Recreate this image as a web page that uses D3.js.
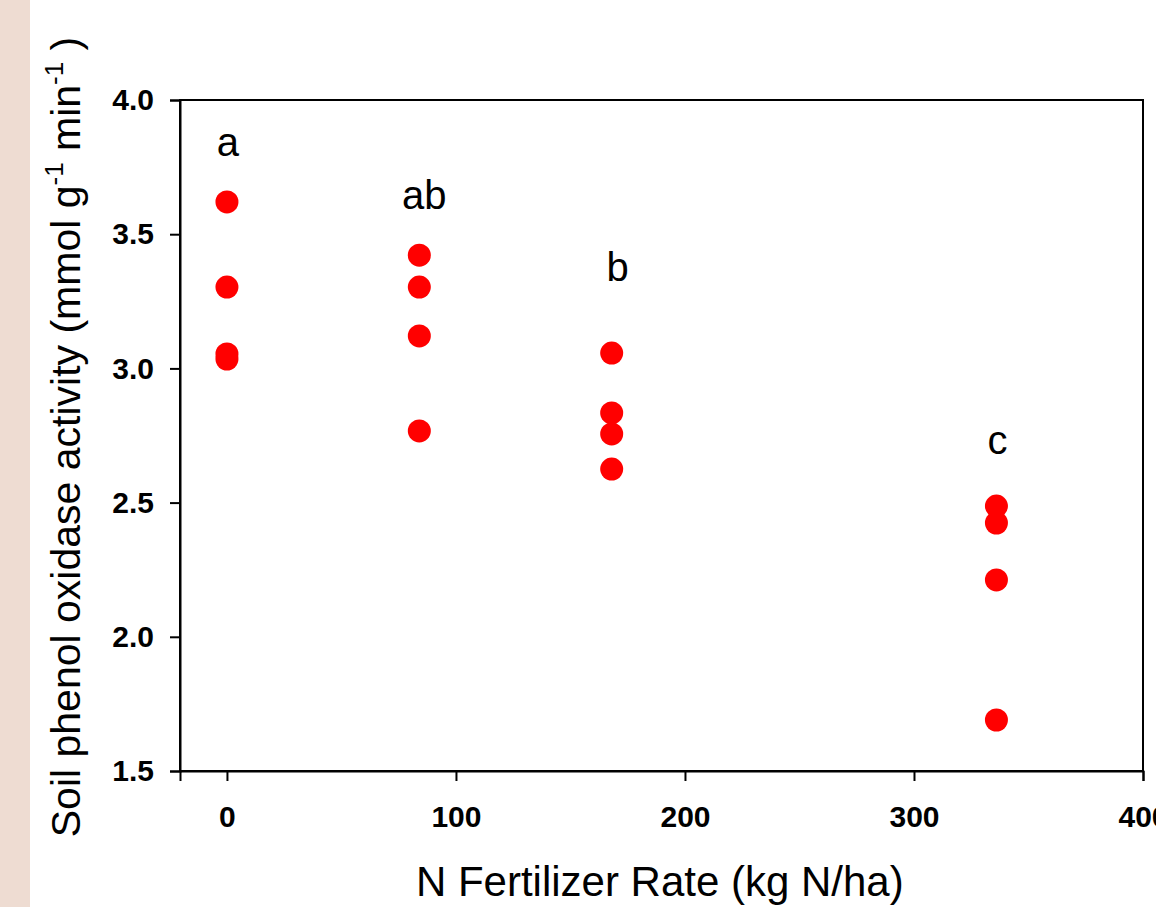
<!DOCTYPE html>
<head>
<meta charset="utf-8">
<script src="https://d3js.org/d3.v7.min.js"></script>
</head>
<style>
body { margin: 0; background: #fff; }
text { font-family: Arial, "Liberation Sans", sans-serif; }
.tick text { font-weight: bold; font-size: 30px; }
</style>
<body>
<script>
// fertilizer rate groups and replicate activity values
var rates = [0, 84, 168, 336];
var reps0 = [3.62, 3.303, 3.054, 3.035];
var reps84 = [3.422, 3.303, 3.121, 2.767];
var reps168 = [3.057, 2.834, 2.756, 2.625];
var reps336 = [2.487, 2.424, 2.212, 1.69];
var letters = ["a", "ab", "b", "c"];
var letterY = [3.79, 3.595, 3.326, 2.68];
var xTicks = [0, 100, 200, 300, 400];
var yTicks = [1.5, 2.0, 2.5, 3.0, 3.5, 4.0];

var W = 1156, H = 907;
var margin = {top: 100, right: 13, bottom: 136, left: 180},
    width = W - margin.left - margin.right,
    height = H - margin.top - margin.bottom;

var svg = d3.select("body").append("svg")
    .attr("width", W)
    .attr("height", H);

// beige strip on the left
svg.append("rect").attr("x", 0).attr("y", 0).attr("width", 30).attr("height", H)
    .attr("fill", "#eedcd2");

var g = svg.append("g")
    .attr("transform", "translate(" + margin.left + "," + margin.top + ")");

var x = d3.scaleLinear().domain([-20.5, 400]).range([0, width]);
var y = d3.scaleLinear().domain([1.5, 4.0]).range([height, 0]);

// frame
g.append("rect").attr("width", width).attr("height", height)
    .attr("fill", "none").attr("stroke", "#000").attr("stroke-width", 2);

g.append("g")
    .attr("transform", "translate(0," + height + ")")
    .call(d3.axisBottom(x).tickValues(xTicks).tickSize(10).tickPadding(25).tickFormat(d3.format("d")))
    .call(function(s) { s.select(".domain").attr("stroke-width", 2); s.selectAll(".tick line").attr("stroke-width", 2); });

g.append("g")
    .call(d3.axisLeft(y).tickValues(yTicks).tickSize(10).tickPadding(16).tickFormat(d3.format(".1f")))
    .call(function(s) { s.select(".domain").attr("stroke-width", 2); s.selectAll(".tick line").attr("stroke-width", 2); });

g.selectAll(".tick text").attr("font-family", "Arial, 'Liberation Sans', sans-serif").attr("fill", "#000");

var groups = [reps0, reps84, reps168, reps336];
var points = [];
groups.forEach(function(vals, i) {
  vals.forEach(function(v) { points.push({rate: rates[i], val: v}); });
});

g.selectAll(".dot").data(points).enter().append("circle")
    .attr("class", "dot")
    .attr("cx", function(d) { return x(d.rate); })
    .attr("cy", function(d) { return y(d.val); })
    .attr("r", 11.5)
    .attr("fill", "#ff0000");

g.selectAll(".letter").data(letters).enter().append("text")
    .attr("class", "letter")
    .attr("x", function(d, i) { return x(rates[i]) + (i == 1 ? 5 : i == 2 ? 6 : 1); })
    .attr("y", function(d, i) { return y(letterY[i]); })
    .attr("text-anchor", "middle")
    .attr("font-size", 40)
    .text(function(d) { return d; });

// axis titles
svg.append("text")
    .attr("x", margin.left + x(189))
    .attr("y", 896)
    .attr("text-anchor", "middle")
    .attr("font-size", 42)
    .text("N Fertilizer Rate (kg N/ha)");

var yt = svg.append("text")
    .attr("transform", "translate(80,437) rotate(-90)")
    .attr("text-anchor", "middle")
    .attr("font-size", 41);
yt.append("tspan").text("Soil phenol oxidase activity (mmol g");
yt.append("tspan").attr("font-size", 26).attr("dy", -17).text("-1");
yt.append("tspan").attr("dy", 17).text(" min");
yt.append("tspan").attr("font-size", 26).attr("dy", -17).text("-1");
yt.append("tspan").attr("dy", 17).text(" )");
</script>
</body>
